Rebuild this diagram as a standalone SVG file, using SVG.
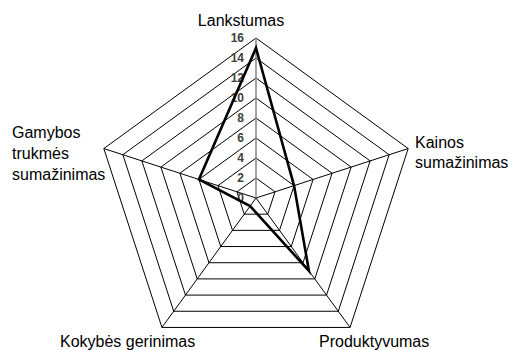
<svg xmlns="http://www.w3.org/2000/svg" width="509" height="350" viewBox="0 0 509 350">
<style>
.ring{fill:none;stroke:#000;stroke-width:1}
.spoke{stroke:#000;stroke-width:1}
.axis{stroke:#868686;stroke-width:1.5}
.tick{font-family:"Liberation Sans",Arial,sans-serif;font-size:12px;font-weight:bold;fill:#404040;text-anchor:end;dominant-baseline:central}
.lbl{font-family:"Liberation Sans",Arial,sans-serif;font-size:16px;fill:#000}
.data{fill:none;stroke:#000;stroke-width:2.6;stroke-linejoin:miter}
</style>
<rect width="509" height="350" fill="#fff"/>
<g id="grid">
<polygon class="ring" points="256,178 275.02,191.82 267.76,214.18 244.24,214.18 236.98,191.82"/>
<polygon class="ring" points="256,158 294.04,185.64 279.51,230.36 232.49,230.36 217.96,185.64"/>
<polygon class="ring" points="256,138 313.07,179.46 291.27,246.54 220.73,246.54 198.93,179.46"/>
<polygon class="ring" points="256,118 332.09,173.28 303.02,262.72 208.98,262.72 179.91,173.28"/>
<polygon class="ring" points="256,98 351.11,167.1 314.78,278.9 197.22,278.9 160.89,167.1"/>
<polygon class="ring" points="256,78 370.13,160.92 326.54,295.08 185.46,295.08 141.87,160.92"/>
<polygon class="ring" points="256,58 389.15,154.74 338.29,311.26 173.71,311.26 122.85,154.74"/>
<polygon class="ring" points="256,38 408.18,148.56 350.05,327.44 161.95,327.44 103.82,148.56"/>
</g>
<g id="connectors">
<line class="spoke" x1="256" y1="198" x2="408.18" y2="148.56"/>
<line class="spoke" x1="256" y1="198" x2="350.05" y2="327.44"/>
<line class="spoke" x1="256" y1="198" x2="161.95" y2="327.44"/>
<line class="spoke" x1="256" y1="198" x2="103.82" y2="148.56"/>
<line class="axis" x1="256" y1="198" x2="256" y2="38"/>
</g>
<g id="ticks">
<text class="tick" x="244" y="198">0</text>
<text class="tick" x="244" y="178">2</text>
<text class="tick" x="244" y="158">4</text>
<text class="tick" x="244" y="138">6</text>
<text class="tick" x="244" y="118">8</text>
<text class="tick" x="244" y="98">10</text>
<text class="tick" x="244" y="78">12</text>
<text class="tick" x="244" y="58">14</text>
<text class="tick" x="244" y="38">16</text>
</g>
<g id="series">
<polygon class="data" points="256,48 294.04,185.64 308.9,270.8 250.12,206.09 198.93,179.46"/>
</g>
<g id="label-lankstumas"><text class="lbl" x="241" y="26" text-anchor="middle">Lankstumas</text></g>
<g id="label-kainos"><text class="lbl" x="415" y="148">Kainos</text><text class="lbl" x="415" y="168">sumažinimas</text></g>
<g id="label-produktyvumas"><text class="lbl" x="319" y="347">Produktyvumas</text></g>
<g id="label-kokybes"><text class="lbl" x="60" y="347">Kokybės gerinimas</text></g>
<g id="label-gamybos"><text class="lbl" x="12" y="138">Gamybos</text><text class="lbl" x="12" y="159">trukmės</text><text class="lbl" x="12" y="180">sumažinimas</text></g>
</svg>
